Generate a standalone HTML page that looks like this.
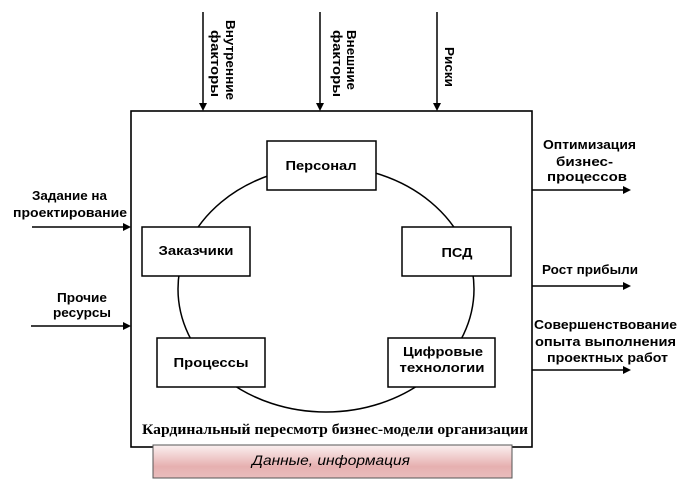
<!DOCTYPE html>
<html><head><meta charset="utf-8"><style>
html,body{margin:0;padding:0;background:#fff;}
svg{display:block;}
.s{font-family:"Liberation Sans",Arial,sans-serif;font-weight:bold;font-size:13px;fill:#000;}
</style></head><body>
<svg width="682" height="488" viewBox="0 0 682 488" xmlns="http://www.w3.org/2000/svg">
<defs>
<linearGradient id="g" x1="0" y1="0" x2="0" y2="1">
<stop offset="0" stop-color="#fbf0f0"/>
<stop offset="0.65" stop-color="#e6b0b0"/>
<stop offset="1" stop-color="#e9bdbd"/>
</linearGradient>
</defs>
<!-- main frame -->
<rect x="131" y="111" width="401" height="336" fill="#fff" stroke="#000" stroke-width="1.6"/>
<!-- ellipse -->
<ellipse cx="326" cy="289" rx="148" ry="123" fill="none" stroke="#000" stroke-width="1.5"/>
<!-- boxes -->
<g fill="#fff" stroke="#000" stroke-width="1.5">
<rect x="267" y="141" width="109" height="49"/>
<rect x="142" y="227" width="108" height="49"/>
<rect x="402" y="227" width="109" height="49"/>
<rect x="157" y="338" width="108" height="49"/>
<rect x="388" y="338" width="107" height="49"/>
</g>
<g class="s" text-anchor="middle">
<text x="321" y="170" textLength="71" lengthAdjust="spacingAndGlyphs">Персонал</text>
<text x="196" y="255" textLength="75" lengthAdjust="spacingAndGlyphs">Заказчики</text>
<text x="457" y="257" textLength="31" lengthAdjust="spacingAndGlyphs">ПСД</text>
<text x="211" y="367" textLength="75" lengthAdjust="spacingAndGlyphs">Процессы</text>
<text x="443" y="356" textLength="80" lengthAdjust="spacingAndGlyphs">Цифровые</text>
<text x="442" y="372" textLength="85" lengthAdjust="spacingAndGlyphs">технологии</text>
</g>
<!-- top arrows -->
<g stroke="#000" stroke-width="1.5">
<line x1="203" y1="12" x2="203" y2="104"/>
<line x1="320" y1="12" x2="320" y2="104"/>
<line x1="437" y1="12" x2="437" y2="104"/>
<line x1="32" y1="227" x2="124" y2="227"/>
<line x1="31" y1="326" x2="124" y2="326"/>
<line x1="532" y1="190" x2="624" y2="190"/>
<line x1="532" y1="286" x2="624" y2="286"/>
<line x1="532" y1="370" x2="624" y2="370"/>
</g>
<g fill="#000">
<polygon points="199,103 207,103 203,111"/>
<polygon points="316,103 324,103 320,111"/>
<polygon points="433,103 441,103 437,111"/>
<polygon points="123,223 123,231 131,227"/>
<polygon points="123,322 123,330 131,326"/>
<polygon points="623,186 623,194 631,190"/>
<polygon points="623,282 623,290 631,286"/>
<polygon points="623,366 623,374 631,370"/>
</g>
<!-- vertical labels -->
<g class="s" text-anchor="middle">
<text transform="translate(226,60) rotate(90)" textLength="80" lengthAdjust="spacingAndGlyphs">Внутренние</text>
<text transform="translate(211,63.5) rotate(90)" textLength="67" lengthAdjust="spacingAndGlyphs">факторы</text>
<text transform="translate(347,60) rotate(90)" textLength="60" lengthAdjust="spacingAndGlyphs">Внешние</text>
<text transform="translate(333,63.5) rotate(90)" textLength="67" lengthAdjust="spacingAndGlyphs">факторы</text>
<text transform="translate(445,67) rotate(90)" textLength="40" lengthAdjust="spacingAndGlyphs">Риски</text>
</g>
<!-- left labels -->
<g class="s" text-anchor="middle">
<text x="69.5" y="200" textLength="75" lengthAdjust="spacingAndGlyphs">Задание на</text>
<text x="70" y="217" textLength="114" lengthAdjust="spacingAndGlyphs">проектирование</text>
<text x="82" y="302" textLength="50" lengthAdjust="spacingAndGlyphs">Прочие</text>
<text x="82" y="317" textLength="58" lengthAdjust="spacingAndGlyphs">ресурсы</text>
</g>
<!-- right labels -->
<g class="s" text-anchor="middle">
<text x="589.5" y="149" textLength="93" lengthAdjust="spacingAndGlyphs">Оптимизация</text>
<text x="584.5" y="166" textLength="57" lengthAdjust="spacingAndGlyphs">бизнес-</text>
<text x="587" y="181" textLength="80" lengthAdjust="spacingAndGlyphs">процессов</text>
<text x="590" y="274" textLength="96" lengthAdjust="spacingAndGlyphs">Рост прибыли</text>
<text x="605.5" y="329" textLength="143" lengthAdjust="spacingAndGlyphs">Совершенствование</text>
<text x="605.5" y="346" textLength="141" lengthAdjust="spacingAndGlyphs">опыта выполнения</text>
<text x="607.5" y="362" textLength="121" lengthAdjust="spacingAndGlyphs">проектных работ</text>
</g>
<!-- bottom caption -->
<text x="335" y="434" text-anchor="middle" font-family="'Liberation Serif','Times New Roman',serif" font-weight="bold" font-size="15" textLength="386" lengthAdjust="spacingAndGlyphs">Кардинальный пересмотр  бизнес-модели организации</text>
<!-- data bar -->
<rect x="153" y="445" width="359" height="33" fill="url(#g)" stroke="#555" stroke-width="1"/>
<text x="331" y="465" text-anchor="middle" font-family="'Liberation Sans',Arial,sans-serif" font-style="italic" font-size="14" textLength="158" lengthAdjust="spacingAndGlyphs">Данные, информация</text>
</svg>
</body></html>
